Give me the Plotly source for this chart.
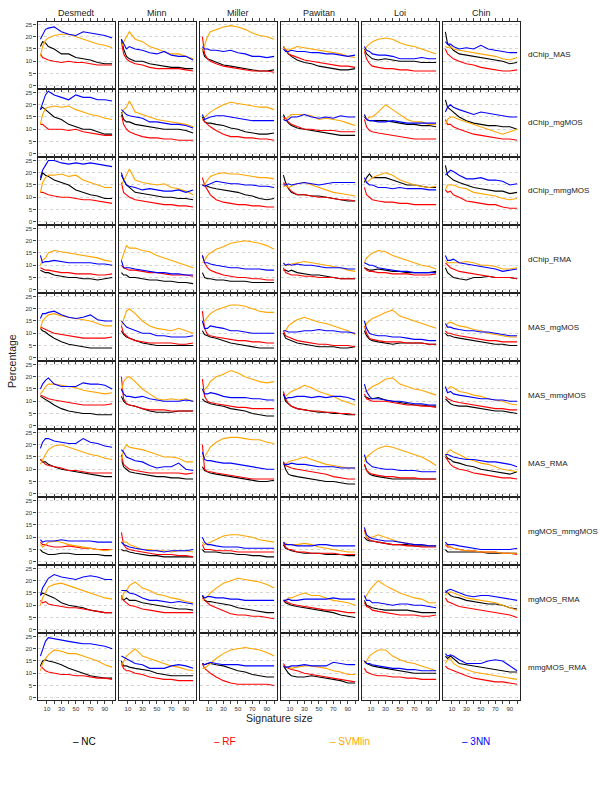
import plotly.graph_objects as go

# ---------------- data ----------------
signature_size = [1, 4, 8, 12, 20, 30, 40, 50, 60, 70, 80, 90, 100]
datasets = ["Desmedt", "Minn", "Miller", "Pawitan", "Loi", "Chin"]
comparisons = ["dChip_MAS", "dChip_mgMOS", "dChip_mmgMOS", "dChip_RMA", "MAS_mgMOS",
               "MAS_mmgMOS", "MAS_RMA", "mgMOS_mmgMOS", "mgMOS_RMA", "mmgMOS_RMA"]
methods = ["NC", "RF", "SVMlin", "3NN"]
method_colors = ["#000000", "#FF0000", "#FFA500", "#0000FF"]
x_tick_vals = [10, 20, 30, 40, 50, 60, 70, 80, 90, 100]
x_tick_text = ["10", "", "30", "", "50", "", "70", "", "90", ""]
y_tick_vals = [0, 5, 10, 15, 20, 25]

# each list: one row of values per dataset (Desmedt, Minn, Miller, Pawitan, Loi, Chin)
dChip_MAS_NC = [[16,18,17.5,16,15,13,13,11.5,11,10.5,9.5,9,9],[19,15,12,11,10,10,9,8.5,8,7.5,7.5,7,7],[15,12,11,10.5,9.5,8.5,8,7.5,7,6.5,6,6,6.5],[16,14.5,13,12,10.5,9.5,9,8,7.5,7,6.5,6.5,7],[15,13,12,11,10.5,11,10.5,10,10,10,9.5,9.5,9.5],[22,17,16,14.5,13,12.5,12,11.5,11,10.5,10,9,9.5]]
dChip_MAS_RF = [[13,11.5,11,10.5,10,9.5,10,9.5,9.5,9,8.5,8.5,8.5],[18,13,11,10,9,8.5,7.5,7,7,7,7,6.5,6],[20,13,11,10,9,8,7.5,7,6.5,6,6,6,5.5],[16,14.5,13,12.5,11.5,10.5,10,9.5,9,8.5,8,8,7.5],[14,11,9,8,7.5,7,7,6.5,6.5,6,6,6,6],[15,13,12,11,10,9,8.5,7.5,7,6.5,6,6,6.5]]
dChip_MAS_SVMlin = [[12,16,18.5,19.5,20.5,21,21,20,19,18,17,16.5,15.5],[16,18,20,22,19,18,16,15,14,13,13,12,11],[14,17,20,22,23,24,24.5,24,23,21.5,20.5,20,19],[16,15,14.5,15,16,15.5,15,14.5,14,13.5,13,12,11.5],[14,16,17,18,19,19.5,19,17.5,16.5,16,15,14,13],[16,15.5,16,15,14.5,14,13.5,13,12.5,12,11,10.5,11.5]]
dChip_MAS_3NN = [[19,21,23,23.5,24,22,21,20.5,22,21.5,21,20.5,19.5],[19,17,15,16,15,14.5,13.5,13,14,12.5,12,12,10.5],[16,15,15,14.5,14.5,14,14.5,13.5,13,12,12,11.5,12],[15,14,14,14.5,14,14,13.5,13.5,13,13,12.5,12,12.5],[16,14.5,14,13,12.5,12.5,12,11,11,11,11.5,11,11],[18,17,17,16,15,15.5,15,16.5,15,14.5,14,13.5,13.5]]

dChip_mgMOS_NC = [[18,19,18,17,15,14,12,11,10,10,9,8,8],[17,14,13,13,12,11.5,11,10.5,10,10,10,9.5,8.5],[15,13,12.5,12.5,12,11.5,10.5,10,9,8.5,8,8,8.5],[16,14,12.5,11.5,10.5,10,9.5,9,8.5,8,7.5,7.5,7.5],[15,14,13.5,13.5,13.5,13.5,13,12.5,12,12,11.5,11.5,11],[22,19,18,17,15,13.5,12.5,12,11.5,11.5,11,11,10]]
dChip_mgMOS_RF = [[12,12,11,10,10,10,9.5,10,9,8.5,8,7.5,7.5],[16,12,10,9,8,7,6.5,6.5,6,6,5.5,5.5,5.5],[14,13,12,11,9.5,8,7,7,6.5,6.5,6,6,5.5],[15,14,13,12,11,10,10,9.5,9.5,9.5,9,9,9],[14,11,9.5,9,8.5,8,7.5,7,6.5,6,6,6,6],[14,12,12,11,10,9,8,7.5,7,6.5,6,6,5.5]]
dChip_mgMOS_SVMlin = [[12,16,18.5,19,19.5,19,19.5,18,17,16,15.5,14.5,14],[16,18,19,21.5,17,16,15,14,13.5,13,12.5,12,11],[14,15,16,17,18.5,20,21,20.5,20,19.5,19,19,18],[14,14,15,16,16,16,15.5,14,14.5,14,13.5,12.5,11.5],[16,14,15,15,17,20,18,16,14,13,13,12,12],[12,14,15,15,14,13,12,11,10,9,8,9,10]]
dChip_mgMOS_3NN = [[18,21,24,25.5,24,23,22,24,23,23,22,22,21.5],[18,17,16,15.5,15,14.5,13,13,12.5,12,12,11.5,10.5],[16,14,14.5,15,15.5,15.5,15,14.5,14,13.5,13.5,13.5,13.5],[14,13.5,14,15,15,16,15,14.5,15,14.5,15.5,15,15],[16,14,13.5,13.5,13,13,13.5,13,12.5,12.5,12.5,12.5,12.5],[17,19,20,19,18,17,16,17,16.5,16,15.5,15,15]]

dChip_mmgMOS_NC = [[17,20,19,18.5,17,16,15,13,12,11,10.5,9.5,9.5],[19,17,15,14,12,11.5,11,10.5,10,10,9.5,9.5,9],[15,15,14.5,14,13.5,13,12.5,12,11,10.5,9.5,9,9.5],[19,16,13.5,12,11,11,10.5,10.5,10,9.5,9,8.5,8.5],[16,18,19.5,18,18,18,17,16,15,15,14.5,14,14],[23,19,18,17,16,15,14,13.5,13,12.5,12.5,11.5,12]]
dChip_mmgMOS_RF = [[12,12,11.5,11,10.5,10,10,9.5,9,9,8.5,8,7.5],[16,12,11,10,9,8.5,8,7.5,7,7,6.5,6.5,6],[18,15,13,11,9,8,7.5,7,7,6.5,6.5,6,6],[16,15,14,12.5,11,11,10.5,10,10,9.5,9,9,8.5],[14,11,10,9,8.5,8,8,7.5,7.5,7,7,7,7],[13,12,12.5,11,10,8.5,8,7.5,7,7,6,5.5,5.5]]
dChip_mmgMOS_SVMlin = [[12,16,18,19,19,19.5,18.5,19,17,16,15,14,14],[15,17,19,21.5,17,16,15.5,15,15.5,14,13.5,12.5,11],[15,15,17,18.5,19.5,20,19.5,19.5,19,18.5,18,18,17.5],[14,15,14,14.5,15.5,16,15,14,13,12,11.5,11,10.5],[17,16,17,18,19,20,19,17,16,15,14.5,14,14.5],[13,15,15,15,14,13.5,12,11.5,11,10.5,9.5,9,9.5]]
dChip_mmgMOS_3NN = [[18,21,23,25,25,24,23.5,24,23.5,24,23.5,23,22.5],[20,17,15,14.5,14,13,13.5,13,12.5,12.5,13,12,13],[15,14.5,15,15.5,16.5,16,15.5,15.5,15,15,14.5,14.5,14],[15,15,15.5,15,15.5,16,15.5,15,15.5,16,16,16,16],[18,16,15,15,14,14,13.5,14,13.5,13.5,13.5,13,13],[19,20,21,20.5,19,17.5,17.5,18,17,17,16.5,15,15.5]]

dChip_RMA_NC = [[8,7.5,7,7,6,5.5,5,5,4.5,4.5,4,4.5,5],[7,6,6,5,5,4.5,4,4,3.5,3.5,3,3,2.5],[7,5,4.5,4.5,4,4,3.5,3.5,3.5,3,3,3,3],[8,8,7.5,8,7,6.5,6,6,5.5,5,4.5,4.5,4.5],[9,8.5,8,8,8.5,8,7.5,7.5,7,7,7,7,7.5],[9,7,6,5,4.5,4,5,5,5.5,5,5,5,4.5]]
dChip_RMA_RF = [[9,8.5,8,8,7.5,7,7,6.5,6.5,6.5,6,6,6.5],[10,9,8.5,8,8,7.5,7,7,6.5,6,6,6,5.5],[14,11,9,8,7,6,5.5,5,5,4.5,4.5,4,4],[9,7,6.5,6,6,5.5,5.5,5,5,5,4.5,4.5,4.5],[9,8,7.5,7.5,7,7,6.5,6.5,6.5,6,6,6,6.5],[11,10,9,8.5,7.5,7,6.5,6,5.5,5,5,5,4.5]]
dChip_RMA_SVMlin = [[10,12,13,15,16,15.5,15,14.5,14,13.5,13,12,11.5],[12,15,18,17,17,16,15.5,14,13,12,11,10,9],[11,12,14,15,16.5,17.5,19,19.5,20,19.5,19,18,16.5],[10,10,10,10.5,11,11.5,11,10.5,10,9.5,9,8,7.5],[11,13,14,15,16,15.5,14,13,12,11,10,9.5,8.5],[12,11,11,11,11,11.5,11,10,10,9.5,8.5,8.5,9]]
dChip_RMA_3NN = [[14,11,11.5,11.5,12,11.5,11,11,11,11,10.5,10.5,10],[12,9,9,9,8.5,8,7.5,7,7,6.5,6.5,6,6],[14,11,11,10.5,10,9.5,9,9,8.5,8.5,8.5,8,8],[11,10,10.5,10,10.5,10,10,9.5,9,9,9,8.5,8.5],[11,10.5,10,10,9,8.5,8,7.5,7.5,7,7,7,7],[14,12,12,12.5,11,10.5,10,9.5,9,8.5,7.5,8,8.5]]

MAS_mgMOS_NC = [[12,11,10.5,9.5,8,6.5,5.5,5,4.5,4,4,4,4],[11,9.5,8.5,8,7,6,5.5,5,5,5,5,5,5],[11,9.5,9,8.5,8,7,6,5.5,5,4.5,4,4,4],[10,8,7.5,7,6,5.5,5,4.5,4.5,4.5,4,4,4.5],[11,9,7.5,7,6.5,6,5.5,6,6,6,6,5.5,5.5],[10,9,9,8.5,8,7.5,7,6.5,6,5.5,5.5,5,5]]
MAS_mgMOS_RF = [[12.5,12,11.5,11,10,9.5,9,8.5,8,8,8,8,8.5],[13,10,9,8,7,6.5,6,6,6,6,5.5,5.5,6],[19,12,9.5,9,8.5,8,7.5,7,7,6.5,6.5,6,6],[11,9,8.5,8,7,6.5,6,5.5,5.5,5,5,5,4.5],[13,10,8,7.5,7,6.5,6.5,6.5,6,6,6,5.5,5.5],[11,10,10,9.5,9,8.5,8,7.5,7,7,6.5,6.5,6.5]]
MAS_mgMOS_SVMlin = [[12,15,16.5,17.5,18,17,16.5,16,15.5,15,14,13,13],[13,16,19,20,18,15,13,12,11.5,11,12,11,10],[14,15,16.5,18,19.5,20.5,21.5,21.5,21,20,19,18.5,18.5],[11,11,13,14,15.5,16.5,15.5,14.5,14,13,12,11,9.5],[12,14,15,16,17,18.5,19.5,17,16,15,14,13,12],[12,14,14.5,14,13,12.5,11.5,11,10,9.5,9,8.5,8.5]]
MAS_mgMOS_3NN = [[16,18,18,18.5,19,17.5,16.5,16,16.5,17.5,15.5,15,15],[15,14,12.5,12,11,10,10,9,9,8.5,8.5,8.5,9],[15,12,12,13,12.5,12,11,11,10.5,10,10,10,10],[11,11,10.5,10.5,10.5,11,11,11.5,11,11,10.5,10.5,10],[15,12,10,9.5,9,9,8.5,8.5,8,7.5,7.5,7,7],[14,12.5,12.5,12,11.5,11,11,10.5,10.5,10,9.5,9,9]]

MAS_mmgMOS_NC = [[12,11.5,11,10,8.5,7,6,5.5,5,5,4.5,4.5,4.5],[12,10,9,8.5,8,7,6,5.5,5.5,5.5,6,6,6],[11,10,9.5,9,8.5,8,7,6.5,6,5,4.5,4,4],[13,10,9,8,7,6.5,6,5.5,5.5,5,5,4.5,4.5],[12,11.5,11,11,11.5,10.5,10,9.5,9,8.5,8.5,8,8],[11,10,9,8.5,8,8,7.5,7,6.5,6,6,5.5,5]]
MAS_mmgMOS_RF = [[12.5,12,11.5,11,10.5,10,9.5,9,8.5,8.5,8.5,8.5,9],[20,11,9,8.5,8,7,6.5,6.5,6.5,6,6,6,6],[19,12,10,9.5,9,8.5,8,7.5,7.5,7,7,7,7],[14,11,9,8,7,6.5,6,6,5.5,5.5,5,5,4.5],[13,11,10.5,10,10,10,9.5,9,8.5,8.5,8,8,7.5],[12,11,10.5,10,9.5,9,8.5,8,7.5,7,7,6.5,6.5]]
MAS_mmgMOS_SVMlin = [[13,14,16,17,17,16.5,16,15.5,14.5,14,13.5,13,13.5],[14,18,19.5,20,18,15,13,11,10.5,11,10.5,11,10],[14,15,16,18,20,21,22.5,21.5,20,19,18,17.5,18],[12,12,13,14,15,16.5,15.5,14,13,12,10.5,9.5,8.5],[14,14,15,16,17,19,19.5,17,16,15,14.5,13.5,12.5],[14,15,16,15.5,14,13.5,12.5,12,11,10.5,10,9,8.5]]
MAS_mmgMOS_3NN = [[15,17,18.5,19.5,17,16,16,16,17.5,17,17,16.5,15],[15,13,12,12,11.5,12,11,10.5,10,10,10,10.5,10],[15,13,13,13.5,13,12,11.5,11.5,11.5,11,11,10.5,10.5],[13,11,11.5,11.5,12,12,11.5,12,11.5,12,12,11.5,10.5],[17,14,12,11,11,10.5,10,10,9.5,9,9,8.5,8.5],[16,13.5,14,13,12.5,12,11.5,11,11,10.5,10.5,10,10]]

MAS_RMA_NC = [[14,13,13,12,11,10,9.5,9,8.5,8,7.5,7,7],[14,11,10,9,8.5,8,7.5,7,7,6.5,6.5,6,6],[11,9.5,9,8.5,8,7.5,7,6.5,6,5.5,5,5,5.5],[13,10,8,7.5,7,6.5,6,5.5,5,5,4.5,4,4],[12,9.5,8,7.5,7,6.5,6,6,6,6,6,6,6],[16,14.5,14,13,12.5,11.5,11,10,9.5,9,8.5,8,9]]
MAS_RMA_RF = [[14,13,12,11.5,11,10.5,9.5,9.5,9,8.5,8.5,8.5,8.5],[16,12,11,10,9.5,9,8.5,8.5,8.5,8.5,8.5,8,8.5],[20,10,9,9,8.5,8,7.5,7,6.5,6,6,6,6],[13,11.5,11,10.5,10,9.5,9,8.5,8,7,6.5,6,6],[12,9.5,8.5,8,7.5,7,7,6.5,6.5,6.5,6,6,6],[15,13.5,12,11,10,9.5,8.5,8,7.5,7,6.5,6.5,6]]
MAS_RMA_SVMlin = [[12,14,16,18,19.5,20,19,18,17,16,15.5,14.5,14],[13,18,20,19,18.5,18,17,16,15,15,14.5,13,13],[14,15,17,19,21,22.5,23,23,22.5,22,22,21,20.5],[12,12,13,13.5,14,15,14,13,12,11.5,11,10.5,10.5],[13,15,16,17,18.5,19.5,19,18,17,16,15,13.5,11.5],[15,17,18,17,16,14.5,13.5,12.5,12,11,10,9.5,9]]
MAS_RMA_3NN = [[18.5,21,22.5,22.5,21.5,21,20.5,20.5,22.5,21,20.5,19.5,19],[18,17,15,14.5,13.5,13,11.5,10.5,11,11,12.5,10,9.5],[17,14,13.5,13.5,13,12.5,12.5,12,11.5,11,10.5,10,10],[12,12,12,12.5,12,12,11.5,11,11,11,10.5,10.5,10.5],[16,13,12,11,10.5,10,10,9.5,9.5,9.5,9,9,9],[16,16,15.5,15,14.5,14,14,13.5,13,13,12.5,12,11]]

mgMOS_mmgMOS_NC = [[5,4,3.5,3,3,3.5,3.5,3,3,3,3,2.5,2.5],[5,4.5,4.5,4,3.5,3,2.5,2.5,2,2,2,2,2],[5,4,4,4,4,3.5,3.5,3,3,2.5,2.5,2,2],[7,5.5,5,4.5,4,3.5,3.5,3.5,3,3,3,2.5,2.5],[10,9,8.5,8.5,8,7.5,7,7,7,6.5,6.5,6.5,6.5],[5,4,4,4,4,4,4,4,3.5,3.5,3.5,3.5,3.5]]
mgMOS_mmgMOS_RF = [[8,7,7,6.5,6,6,6.5,6,5.5,5.5,5,5,5],[12,7,5.5,5,4.5,4,3.5,3,3,3,2.5,2.5,2],[7,5,5,5,4.5,4.5,4.5,4,4,4,4,4,4],[8,6,5,5,4,4,3.5,3.5,3.5,3.5,3,3,3],[13,10,9,8.5,8,7.5,7,7,6.5,6.5,6,6,6],[7,6,6,5.5,5,4.5,4.5,4,4,4,3.5,3.5,3]]
mgMOS_mmgMOS_SVMlin = [[7,6,7,8,8.5,8,7,6.5,6,5.5,5,4.5,5],[8,8,8,7,6,5,5,4.5,4.5,4,4.5,4.5,4],[8,7,7.5,8,9,10.5,11,11,10.5,10,9,8.5,8],[8,7.5,7,7,7,7.5,7,6,5.5,5,4.5,4,4],[12,10,10,10,11,10,9,8,7.5,7,7,6.5,6.5],[7,6.5,6,5.5,5,4.5,4.5,4,4,4,3.5,3.5,3.5]]
mgMOS_mmgMOS_3NN = [[9,8,8.5,8.5,8.5,9,8.5,8.5,8.5,8.5,8,8,8],[8,7,6.5,6,5.5,5,4.5,4.5,4,4.5,4.5,4.5,5],[10,8,7,7,6.5,6,6,6,5.5,5.5,5.5,5.5,5.5],[8,7,7,7,6.5,6.5,6.5,7,7,6.5,6.5,6.5,6.5],[14,11,10,9.5,9,8.5,8.5,8,7.5,7,7,6.5,6.5],[8,7,7,7,6.5,6,5.5,5,5,5,5,5,5.5]]

mgMOS_RMA_NC = [[14,15,14.5,14,13,11,10,9.5,9,8,7.5,7,7],[13,12,13,12,12,11,10.5,10,9.5,9,8.5,8.5,8],[14,12,11.5,11.5,11,10.5,10,9,8.5,8,7.5,7,7],[12,11,10.5,10,9.5,9,8.5,8,7.5,7,6,5.5,5],[12,10,9.5,9,8.5,8,8,8,8,7.5,7,7,7],[16,15,14,13.5,13,12,11.5,11,10.5,10.5,10,9,8.5]]
mgMOS_RMA_RF = [[12,11,11.5,10.5,10,9.5,9,9,8.5,8,7.5,7,7],[14,12,11,10,9.5,8.5,8,7.5,7,7,7,7,7],[13,12,11,10,9,7.5,6.5,6,6,5.5,5.5,5,4.5],[12,11.5,11,10.5,10,9.5,9,8.5,8,8,7.5,7,7],[11,9.5,9,8,7.5,7,6.5,6,6,6,5.5,5.5,6],[13,11.5,11,10.5,9.5,9,8.5,8,7.5,7,6.5,6,5]]
mgMOS_RMA_SVMlin = [[10,13,15,17.5,18.5,19,18,17,16,15,14,13,12.5],[12,15,16,18,19.5,17,16,14.5,14,13,12.5,11.5,11],[12,12.5,13.5,15,17,19,20,21,20.5,20,19.5,18.5,17],[12,12,13,13,14,15,14,14,13,12,11.5,11,10],[13,14,16,17.5,20,18,16.5,15,14,13,12.5,11,11],[14,15,15.5,15,14,13,12.5,12,11.5,11,10,9,8]]
mgMOS_RMA_3NN = [[14,17,19,21,22.5,21.5,21,20.5,21.5,22,21.5,20.5,20.5],[16,16,16,15,14.5,13,12,12,11.5,11,11.5,11,10.5],[14,13,13.5,13.5,13,13,12.5,12.5,12,12,12,12,12],[12,12,12.5,12,12,12.5,12.5,12.5,12.5,13,12.5,12.5,12.5],[14,12,12,11,11,10.5,10,10.5,10.5,10,10,9.5,9],[15,16,16.5,16,15,14,13.5,14,14,13.5,13,12.5,12]]

mmgMOS_RMA_NC = [[13,15,15.5,15,14.5,13.5,12,11,10,9,8.5,8,8],[15,13,13,12.5,12,11.5,11,10,9.5,9,9,9,9],[14,13.5,14,14,13.5,13,12,11,10.5,9.5,9,8.5,8.5],[13,11.5,10,9,8.5,8.5,9,8.5,8,7.5,7,6,6],[15,14,13.5,13,12.5,12,11.5,11,10.5,10,10,10,10],[17,16,17,16,14,13.5,13,12.5,12,11.5,11,10.5,10.5]]
mmgMOS_RMA_RF = [[13,12,11,10.5,10,9.5,9.5,9,9,8.5,8,8,7.5],[14,12,11,11,10,9.5,8.5,8,7.5,7.5,7,7,7],[14,12,11,10,8.5,7,6,5.5,5.5,5.5,5.5,5.5,5],[14,12.5,12,11.5,11,10,9.5,9,8.5,8,7.5,7,6.5],[12,10.5,10,9.5,9,9,8.5,8.5,8,8,7.5,7.5,7.5],[13,12,11.5,11,10,9,8,7.5,7,6.5,6.5,6,5.5]]
mmgMOS_RMA_SVMlin = [[11,14,16,17.5,19.5,19,18,18,17,16,15,13.5,12.5],[13,15,17,18,20,17,16,15,14,13,12.5,11.5,11],[12,12,13,14,16,18,19.5,20,20.5,20,19.5,18.5,17],[13,12.5,12.5,12,12.5,13,13,12.5,12,11,10.5,9.5,9.5],[14,15,17,18,19.5,19.5,17,15.5,14.5,14,13,12,11],[14,15.5,16,14,12.5,11.5,10.5,10,9.5,9,8.5,8,7.5]]
mmgMOS_RMA_3NN = [[17,20,23,24.5,24,23.5,23,22.5,22,22,21.5,21,20],[17,16.5,16,15,14,13.5,12,12,12,13,13.5,13,12],[14,13.5,14,14.5,14,13.5,13.5,13.5,13,13,13,13,13],[13,12.5,12.5,13,13,13.5,13,13,13,14.5,14,13.5,13.5],[15,14,14,13.5,13,12.5,12,12,11.5,11.5,11,11,11],[18,17,17.5,17,15.5,14,14,14,15,15.5,15,13,11]]

series_by_comparison = {
    "dChip_MAS": [dChip_MAS_NC, dChip_MAS_RF, dChip_MAS_SVMlin, dChip_MAS_3NN],
    "dChip_mgMOS": [dChip_mgMOS_NC, dChip_mgMOS_RF, dChip_mgMOS_SVMlin, dChip_mgMOS_3NN],
    "dChip_mmgMOS": [dChip_mmgMOS_NC, dChip_mmgMOS_RF, dChip_mmgMOS_SVMlin, dChip_mmgMOS_3NN],
    "dChip_RMA": [dChip_RMA_NC, dChip_RMA_RF, dChip_RMA_SVMlin, dChip_RMA_3NN],
    "MAS_mgMOS": [MAS_mgMOS_NC, MAS_mgMOS_RF, MAS_mgMOS_SVMlin, MAS_mgMOS_3NN],
    "MAS_mmgMOS": [MAS_mmgMOS_NC, MAS_mmgMOS_RF, MAS_mmgMOS_SVMlin, MAS_mmgMOS_3NN],
    "MAS_RMA": [MAS_RMA_NC, MAS_RMA_RF, MAS_RMA_SVMlin, MAS_RMA_3NN],
    "mgMOS_mmgMOS": [mgMOS_mmgMOS_NC, mgMOS_mmgMOS_RF, mgMOS_mmgMOS_SVMlin, mgMOS_mmgMOS_3NN],
    "mgMOS_RMA": [mgMOS_RMA_NC, mgMOS_RMA_RF, mgMOS_RMA_SVMlin, mgMOS_RMA_3NN],
    "mmgMOS_RMA": [mmgMOS_RMA_NC, mmgMOS_RMA_RF, mmgMOS_RMA_SVMlin, mmgMOS_RMA_3NN],
}

# ---------------- layout geometry (pixels) ----------------
W, H = 600, 799
FONT = "Liberation Sans, Arial, Helvetica, sans-serif"
col_left0, col_pitch, col_w = 37.5, 81.0, 77.5
row_top0, row_pitch, row_h = 22.0, 68.0, 66.0

fig = go.Figure()
layout_axes = {}
annotations = []

for r, comp in enumerate(comparisons):
    for c, ds in enumerate(datasets):
        k = r * 6 + c + 1
        xname = "x" if k == 1 else f"x{k}"
        yname = "y" if k == 1 else f"y{k}"
        x0 = col_left0 + c * col_pitch
        x1 = x0 + col_w
        yt = row_top0 + r * row_pitch
        yb = yt + row_h
        for m, color, vals in zip(methods, method_colors, series_by_comparison[comp]):
            fig.add_trace(go.Scatter(
                x=signature_size, y=vals[c], mode="lines",
                line=dict(color=color, width=1.1),
                xaxis=xname, yaxis=yname, showlegend=False, name=m,
                hoverinfo="skip"))
        layout_axes["xaxis" if k == 1 else f"xaxis{k}"] = dict(
            domain=[x0 / W, x1 / W], anchor=yname, range=[-3, 104],
            tickvals=x_tick_vals, ticktext=x_tick_text,
            ticks="outside", ticklen=3, tickwidth=1, tickcolor="#444",
            showticklabels=(r == len(comparisons) - 1),
            tickfont=dict(size=6, color="#333", family=FONT),
            showline=True, linecolor="#222", linewidth=1.4, mirror="ticks",
            showgrid=False, zeroline=False, fixedrange=True)
        layout_axes["yaxis" if k == 1 else f"yaxis{k}"] = dict(
            domain=[1 - yb / H, 1 - yt / H], anchor=xname, range=[-0.9, 26],
            tickvals=y_tick_vals,
            ticks="outside" if c == 0 else "", ticklen=3, tickwidth=1, tickcolor="#444",
            showticklabels=(c == 0),
            tickfont=dict(size=6, color="#333", family=FONT),
            showline=True, linecolor="#222", linewidth=1.4, mirror=True,
            showgrid=True, gridcolor="#d4d4d4", griddash="dot", gridwidth=1,
            zeroline=False, fixedrange=True)
        if r == 0:
            annotations.append(dict(
                text=ds, x=(x0 + x1) / 2 / W, y=1 - 13 / H, xref="paper", yref="paper",
                showarrow=False, xanchor="center", yanchor="middle",
                font=dict(size=9, color="#222", family=FONT)))
    annotations.append(dict(
        text=comp, x=526 / W, y=1 - (row_top0 + r * row_pitch + row_h / 2) / H,
        xref="paper", yref="paper", showarrow=False, xanchor="left", yanchor="middle",
        font=dict(size=8, color="#222", family=FONT)))

# axis titles
annotations.append(dict(text="Percentage", x=12 / W, y=1 - 361 / H, xref="paper", yref="paper",
                        showarrow=False, textangle=-90, xanchor="center", yanchor="middle",
                        font=dict(size=10.5, color="#222", family=FONT)))
annotations.append(dict(text="Signature size", x=279 / W, y=1 - 718 / H, xref="paper", yref="paper",
                        showarrow=False, xanchor="center", yanchor="middle",
                        font=dict(size=10.5, color="#222", family=FONT)))
# key at bottom
legend_x = [84, 225, 350, 476]
for m, color, lx in zip(methods, method_colors, legend_x):
    annotations.append(dict(text="\u2013 " + m, x=lx / W, y=1 - 741 / H, xref="paper", yref="paper",
                            showarrow=False, xanchor="center", yanchor="middle",
                            font=dict(size=10, color=color, family=FONT)))

fig.update_layout(
    width=W, height=H, margin=dict(l=0, r=0, t=0, b=0),
    paper_bgcolor="white", plot_bgcolor="white",
    showlegend=False, annotations=annotations, **layout_axes)

fig.write_html("out.html", config={"displayModeBar": False},
               post_script="document.body.style.margin='0';document.body.style.overflow='hidden';")
